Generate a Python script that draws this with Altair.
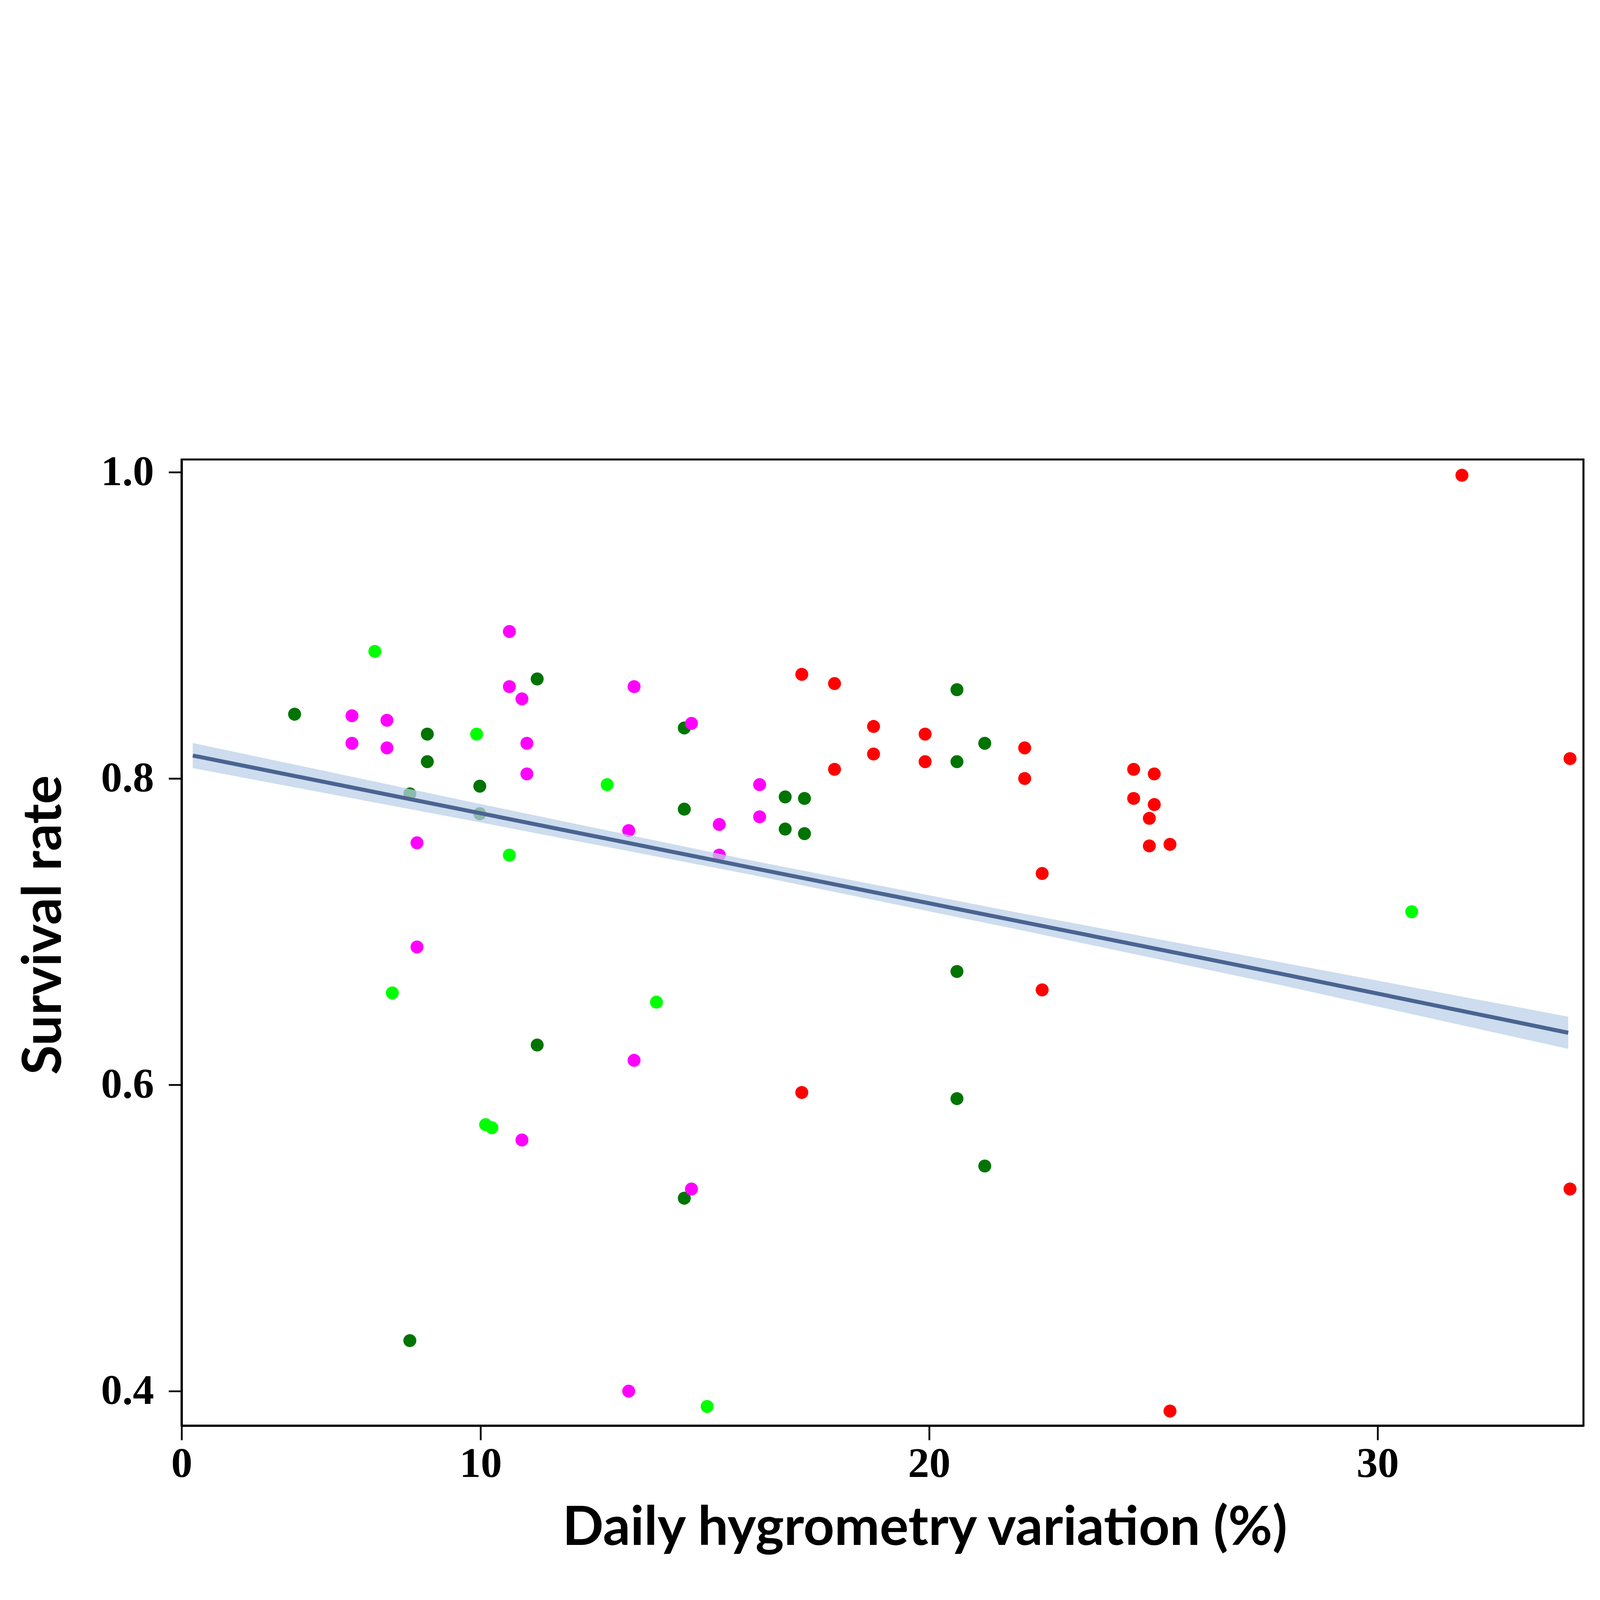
import altair as alt
import pandas as pd

# Dark green series
dg_x = [5.85, 8.81, 8.81, 8.42, 9.98, 9.98, 11.26, 11.26, 8.42, 14.54, 14.54, 14.54,
        16.79, 17.22, 16.79, 17.22, 20.62, 20.62, 21.24, 20.62, 20.62, 21.24]
dg_y = [0.842, 0.829, 0.811, 0.790, 0.795, 0.777, 0.865, 0.626, 0.433, 0.833, 0.780, 0.526,
        0.788, 0.787, 0.767, 0.764, 0.858, 0.811, 0.823, 0.674, 0.591, 0.547]

# Light green series
lg_x = [7.64, 9.91, 12.82, 10.64, 8.03, 13.92, 10.11, 10.25, 15.05, 30.76]
lg_y = [0.883, 0.829, 0.796, 0.750, 0.660, 0.654, 0.574, 0.572, 0.390, 0.713]

# Magenta series
mg_x = [7.13, 7.13, 7.91, 7.91, 8.58, 8.58, 10.64, 10.64, 10.92, 11.03, 11.03, 10.92,
        13.42, 13.30, 13.42, 13.30, 14.70, 15.32, 15.32, 16.22, 16.22, 14.70]
mg_y = [0.841, 0.823, 0.838, 0.820, 0.758, 0.690, 0.896, 0.860, 0.852, 0.823, 0.803, 0.564,
        0.860, 0.766, 0.616, 0.400, 0.836, 0.770, 0.750, 0.796, 0.775, 0.532]

# Red series
rd_x = [17.16, 17.89, 17.89, 18.76, 18.76, 19.91, 19.91, 22.13, 22.13, 24.56, 25.02, 24.56,
        25.02, 24.91, 24.91, 25.37, 22.52, 22.52, 34.29, 31.88, 34.29, 25.37, 17.16]
rd_y = [0.868, 0.862, 0.806, 0.834, 0.816, 0.829, 0.811, 0.820, 0.800, 0.806, 0.803, 0.787,
        0.783, 0.774, 0.756, 0.757, 0.738, 0.662, 0.813, 0.998, 0.532, 0.387, 0.595]

# Fitted regression line with confidence band
fit_x = [3.58, 10.0, 16.0, 22.0, 28.0, 34.25]
fit_y = [0.815, 0.7773, 0.742, 0.7068, 0.6716, 0.634]
fit_lo = [0.8068, 0.7713, 0.7373, 0.7013, 0.6641, 0.6235]
fit_hi = [0.8232, 0.7833, 0.7467, 0.7123, 0.6791, 0.6445]

groups = ["G1", "G2", "G3", "G4"]
colors = ["#007400", "#00ff00", "#ff00ff", "#ff0000"]

rows = []
for g, xs, ys in [("G1", dg_x, dg_y), ("G2", lg_x, lg_y), ("G3", mg_x, mg_y), ("G4", rd_x, rd_y)]:
    for a, b in zip(xs, ys):
        rows.append({"x": a, "y": b, "group": g})
pts = pd.DataFrame(rows)
fit = pd.DataFrame({"x": fit_x, "y": fit_y, "lo": fit_lo, "hi": fit_hi})

XMIN, XMAX = 3.332, 34.59
YMIN, YMAX = 0.3775, 1.0083

xscale = alt.Scale(domain=[XMIN, XMAX], nice=False, zero=False)
yscale = alt.Scale(domain=[YMIN, YMAX], nice=False, zero=False)

xaxis = alt.Axis(
    values=[XMIN, 10, 20, 30],
    labelExpr="datum.value < 5 ? '0' : format(datum.value, 'd')",
    title="Daily hygrometry variation (%)",
    titleFont="Lato", titleFontWeight="bold", titleFontSize=242,
    titleX=3326, titleY=533, titleBaseline="alphabetic", titleAlign="center",
    labelFont="Liberation Serif", labelFontWeight="bold", labelFontSize=190, labelLimit=0,
    labelPadding=15, tickSize=65, tickWidth=8, tickColor="black",
    domainColor="black", domainWidth=10, grid=False, labelColor="black", titleColor="black",
    labelFlush=False, labelOverlap=False, titleLimit=0,
)
yaxis = alt.Axis(
    values=[0.4, 0.6, 0.8, 1.0], format=".1f",
    title="Survival rate",
    titleFont="Lato", titleFontWeight="bold", titleFontSize=242,
    titleX=-540, titleY=2083, titleBaseline="alphabetic", titleAlign="center", titleAngle=270,
    labelFont="Liberation Serif", labelFontWeight="bold", labelFontSize=190, labelLimit=0,
    labelPadding=66, tickSize=58, tickWidth=8, tickColor="black",
    domainColor="black", domainWidth=10, grid=False, labelColor="black", titleColor="black",
    labelFlush=False, labelOverlap=False, titleLimit=0,
)

points = alt.Chart(pts).mark_circle(size=3364, opacity=1).encode(
    x=alt.X("x:Q", scale=xscale, axis=xaxis),
    y=alt.Y("y:Q", scale=yscale, axis=yaxis),
    color=alt.Color("group:N", scale=alt.Scale(domain=groups, range=colors), legend=None),
)

band = alt.Chart(fit).mark_area(color="#bcd0e8", opacity=0.75).encode(
    x=alt.X("x:Q", scale=xscale),
    y=alt.Y("lo:Q", scale=yscale),
    y2="hi:Q",
)

line = alt.Chart(fit).mark_line(color="#4a6491", strokeWidth=18).encode(
    x=alt.X("x:Q", scale=xscale),
    y=alt.Y("y:Q", scale=yscale),
)

chart = alt.layer(points, band, line).properties(
    width=6274, height=4324,
    padding={"left": 65, "top": 101, "right": 60, "bottom": 40},
    background="white",
).configure_view(stroke="black", strokeWidth=9)

chart.save("out.html", embed_options={"renderer": "svg", "actions": False})
